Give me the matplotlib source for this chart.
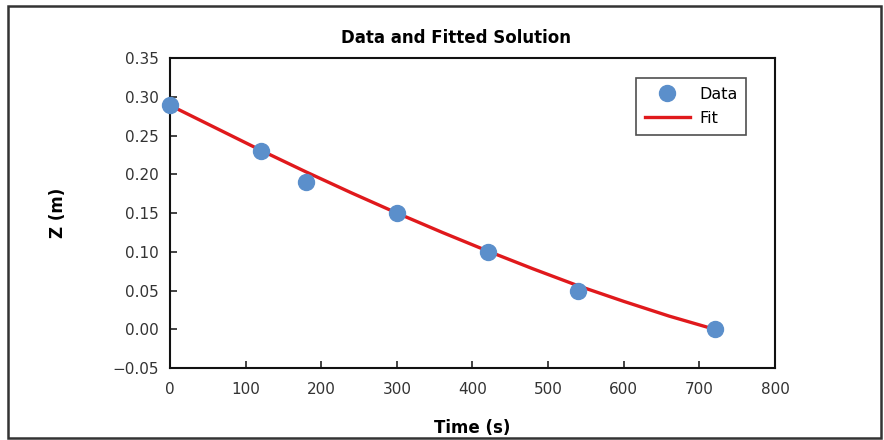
import matplotlib
matplotlib.use("Agg")
import matplotlib.pyplot as plt
from matplotlib.patches import Rectangle

# Data
time_data = [0, 120, 180, 300, 420, 540, 720]
z_data = [0.29, 0.23, 0.19, 0.15, 0.10, 0.05, 0.0]

time_fit = [0, 60, 120, 180, 240, 300, 360, 420, 480, 540, 600, 660, 720]
z_fit = [0.289, 0.260, 0.231, 0.203, 0.176, 0.150, 0.125, 0.101, 0.078, 0.056, 0.036, 0.017, 0.0]

x_ticks = [0, 100, 200, 300, 400, 500, 600, 700, 800]
y_ticks = [-0.05, 0.0, 0.05, 0.10, 0.15, 0.20, 0.25, 0.30, 0.35]

plt.rcParams['font.family'] = ['DejaVu Sans']

fig = plt.figure(figsize=(8.84, 4.4), dpi=100)
ax = fig.add_axes([0.1923, 0.1636, 0.6844, 0.7045])

# outer frame
fig.patches.append(Rectangle((8 / 884, 2 / 440), 873 / 884, 432 / 440, transform=fig.transFigure,
                             fill=False, edgecolor='#333333', linewidth=1.8))

ax.plot(time_fit, z_fit, color='#e0191c', linewidth=2.4, label='Fit', zorder=2)
ax.plot(time_data, z_data, linestyle='none', marker='o', markersize=11.5,
        color='#5b8fcb', label='Data', zorder=3, clip_on=False)

ax.set_xlim(0, 800)
ax.set_ylim(-0.05, 0.35)
ax.set_xticks(x_ticks)
ax.set_yticks(y_ticks)
ax.set_xticklabels([str(v) for v in x_ticks])
ax.set_yticklabels(['\u22120.05' if v < 0 else f'{v:.2f}' for v in y_ticks])
ax.tick_params(direction='in', length=5, width=1.2, labelsize=11, colors='#222222',
               labelcolor='#333333', pad=8)
ax.tick_params(axis='x', pad=10)
for s in ax.spines.values():
    s.set_linewidth(1.5)
    s.set_color('#111111')

ax.set_xlabel('Time (s)', fontsize=12, fontweight='bold', labelpad=16)
ax.set_ylabel('Z (m)', fontsize=12, fontweight='bold', labelpad=33)
fig.text(0.516, 0.914, 'Data and Fitted Solution', ha='center', va='center',
         fontsize=12, fontweight='bold')

handles, labels = ax.get_legend_handles_labels()
leg = ax.legend([handles[1], handles[0]], [labels[1], labels[0]],
                loc='upper right', bbox_to_anchor=(0.958, 0.945), fontsize=11.5,
                frameon=True, fancybox=False, edgecolor='#222222', handlelength=2.8,
                borderpad=0.55, labelspacing=0.55, handletextpad=0.6, borderaxespad=0.2)
leg.get_frame().set_linewidth(1.2)

fig.savefig('out.png', dpi=100)
